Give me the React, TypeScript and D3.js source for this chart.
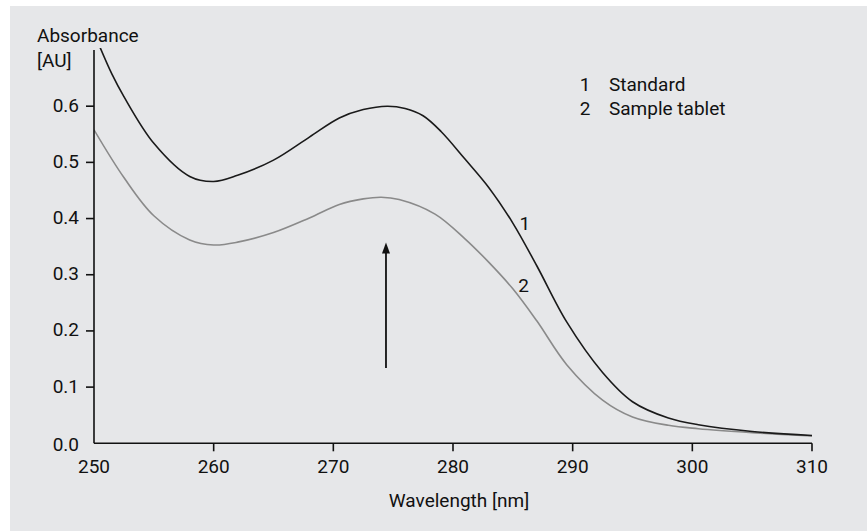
import React from "react";
import * as d3 from "d3";

const standardWl = [250.5, 251.5, 252.5, 255, 258, 260, 262, 265, 268, 270.5, 272.5, 274.5, 276, 277.5, 279, 281, 283, 285, 287, 289.5, 292.5, 295, 298, 300.5, 305, 310];
const standardAbs = [0.705, 0.657, 0.617, 0.534, 0.475, 0.466, 0.477, 0.504, 0.545, 0.579, 0.594, 0.6, 0.596, 0.583, 0.555, 0.506, 0.455, 0.392, 0.316, 0.216, 0.126, 0.074, 0.045, 0.033, 0.021, 0.014];

const sampleWl = [250, 252.5, 255, 258, 260, 262, 265, 268, 270.5, 272.5, 274, 275.5, 278.5, 281, 283, 285, 287, 289.5, 292.5, 295, 298, 300.5, 305, 310];
const sampleAbs = [0.558, 0.473, 0.405, 0.362, 0.353, 0.358, 0.375, 0.401, 0.425, 0.435, 0.438, 0.434, 0.408, 0.364, 0.322, 0.275, 0.218, 0.14, 0.077, 0.047, 0.032, 0.026, 0.019, 0.013];

const xTicks = [250, 260, 270, 280, 290, 300, 310];
const yTicks = [0.0, 0.1, 0.2, 0.3, 0.4, 0.5, 0.6];
const legendItems = [
  { num: "1", name: "Standard" },
  { num: "2", name: "Sample tablet" },
];
const curveLabels = [
  { text: "1", wl: 286.0, abs: 0.392 },
  { text: "2", wl: 285.9, abs: 0.28 },
];
const arrowWl = 274.4;
const arrowFrom = 0.134;
const arrowTo = 0.3575;

const W = 867;
const H = 531;
const FONT = "Roboto, 'Liberation Sans', sans-serif";

export default function App() {
  const x = d3.scaleLinear().domain([250, 310]).range([94, 812]);
  const y = d3.scaleLinear().domain([0, 0.7]).range([443.3, 50]);

  const line = d3
    .line<[number, number]>()
    .x((d) => x(d[0]))
    .y((d) => y(d[1]))
    .curve(d3.curveCatmullRom.alpha(0.5));

  const stdPath = line(standardWl.map((w, i) => [w, standardAbs[i]] as [number, number])) || "";
  const smpPath = line(sampleWl.map((w, i) => [w, sampleAbs[i]] as [number, number])) || "";

  const ax = x(arrowWl);
  const aTip = y(arrowTo);
  const aBase = y(arrowFrom);

  return (
    <svg
      width={W}
      height={H}
      style={{ position: "absolute", left: 0, top: 0 }}
      fontFamily={FONT}
    >
      <rect x={0} y={0} width={W} height={H} fill="#ffffff" />
      <rect x={10} y={6} width={W - 10} height={H - 6} fill="#e6e7e9" />

      <defs>
        <clipPath id="plotclip">
          <rect x={94} y={48} width={730} height={400} />
        </clipPath>
      </defs>

      {/* curves */}
      <g clipPath="url(#plotclip)">
        <path d={smpPath} fill="none" stroke="#8a8a8a" strokeWidth={1.6} />
        <path d={stdPath} fill="none" stroke="#1a1a1a" strokeWidth={1.6} />
      </g>

      {/* axes */}
      <line x1={x(250)} x2={x(250)} y1={y(0.7)} y2={y(0)} stroke="#111" strokeWidth={1.6} />
      <line x1={x(250)} x2={x(310)} y1={y(0)} y2={y(0)} stroke="#111" strokeWidth={1.6} />

      {yTicks.map((t) => (
        <g key={"y" + t}>
          {t > 0 && (
            <line x1={x(250) - 8} x2={x(250)} y1={y(t)} y2={y(t)} stroke="#111" strokeWidth={1.6} />
          )}
          <text
            x={79}
            y={y(t) + (t === 0 ? 1 : -1)}
            textAnchor="end"
            dominantBaseline="central"
            fontSize={19}
            fill="#111"
          >
            {t.toFixed(1)}
          </text>
        </g>
      ))}

      {xTicks.map((t) => (
        <g key={"x" + t}>
          {t > 250 && (
            <line x1={x(t)} x2={x(t)} y1={y(0)} y2={y(0) + 8} stroke="#111" strokeWidth={1.6} />
          )}
          <text
            x={x(t)}
            y={466}
            textAnchor="middle"
            dominantBaseline="central"
            fontSize={19}
            fill="#111"
          >
            {t}
          </text>
        </g>
      ))}

      {/* axis titles */}
      <text x={37} y={42} fontSize={19} fill="#111">Absorbance</text>
      <text x={37} y={67} fontSize={19} fill="#111">[AU]</text>
      <text x={459} y={507} textAnchor="middle" fontSize={19} fill="#111">
        Wavelength [nm]
      </text>

      {/* legend */}
      {legendItems.map((it, i) => (
        <g key={it.num}>
          <text x={585} y={91 + i * 24} textAnchor="middle" fontSize={19} fill="#111">
            {it.num}
          </text>
          <text x={609} y={91 + i * 24} fontSize={19} fill="#111">
            {it.name}
          </text>
        </g>
      ))}

      {/* curve labels */}
      {curveLabels.map((c) => (
        <text
          key={c.text}
          x={x(c.wl)}
          y={y(c.abs)}
          textAnchor="middle"
          dominantBaseline="central"
          fontSize={19}
          fill="#111"
        >
          {c.text}
        </text>
      ))}

      {/* arrow */}
      <line x1={ax} x2={ax} y1={aBase} y2={aTip + 8} stroke="#111" strokeWidth={1.8} />
      <path
        d={`M${ax},${aTip} L${ax - 4},${aTip + 11} L${ax + 4},${aTip + 11} Z`}
        fill="#111"
      />
    </svg>
  );
}
